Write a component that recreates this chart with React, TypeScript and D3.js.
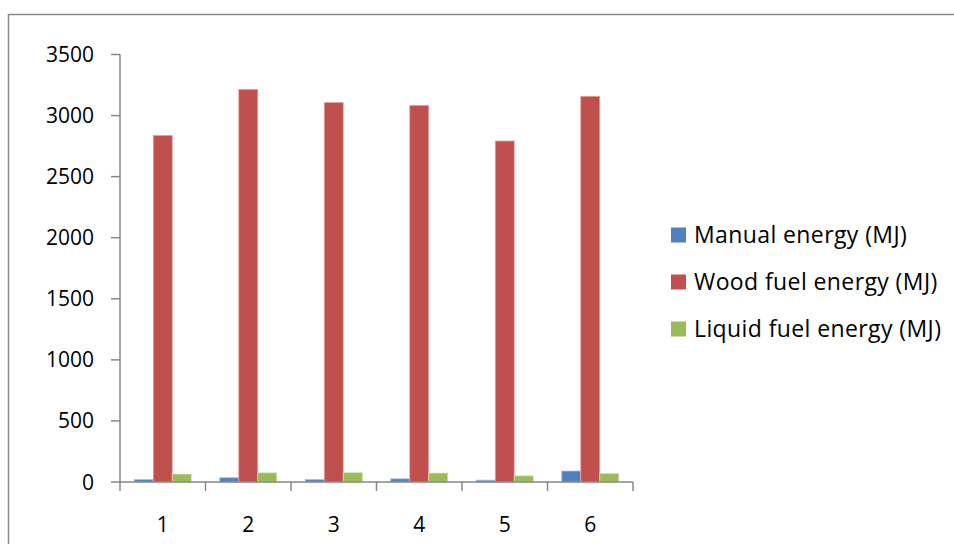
import React from "react";
import * as d3 from "d3";

const categories = ["1", "2", "3", "4", "5", "6"];
const seriesNames = ["Manual energy (MJ)", "Wood fuel energy (MJ)", "Liquid fuel energy (MJ)"];
const manual = [20, 35, 20, 26, 15, 90];
const wood = [2838, 3215, 3108, 3084, 2792, 3158];
const liquid = [65, 75, 76, 73, 50, 70];
const yTicks = [0, 500, 1000, 1500, 2000, 2500, 3000, 3500];
const colors = ["#4F81BD", "#C0504D", "#9BBB59"];
const edgeColors = ["#a9c1e0", "#e2a9a7", "#cfe0ae"];

export default function App() {
  const W = 954, H = 544;
  const left = 120, right = 633, top = 54.5, bottom = 482;
  const series = [manual, wood, liquid];
  const x = d3.scaleBand<string>().domain(categories).range([left, right]).paddingInner(0).paddingOuter(0);
  const y = d3.scaleLinear().domain([0, 3500]).range([bottom, top]);
  const bw = x.bandwidth();
  const barW = bw / 4.5;
  const inner = d3.scaleBand<number>().domain([0, 1, 2]).range([0.75 * barW, 0.75 * barW + 3 * barW]);
  const axisColor = "#878787";
  const font = "'Open Sans', sans-serif";
  const legendY = [235, 282, 329];

  return (
    <svg width={W} height={H} style={{ position: "absolute", left: 0, top: 0, background: "#fff" }}>
      <rect x={0} y={0} width={W} height={H} fill="#fff" />
      <rect x={8.5} y={14.5} width={W + 20} height={H + 20} fill="none" stroke="#8c8c8c" strokeWidth={1.5} />
      {series.map((vals, si) =>
        vals.map((v, ci) => (
          <rect
            key={`${si}-${ci}`}
            x={(x(categories[ci]) as number) + (inner(si) as number)}
            y={y(v)}
            width={inner.bandwidth()}
            height={bottom - y(v)}
            fill={colors[si]}
            stroke={edgeColors[si]}
            strokeWidth={0.8}
          />
        ))
      )}
      <line x1={left} x2={left} y1={top} y2={bottom + 9} stroke={axisColor} strokeWidth={1.5} />
      {yTicks.map((t) => (
        <g key={t}>
          <line x1={left - 9} x2={left} y1={y(t)} y2={y(t)} stroke={axisColor} strokeWidth={1.5} />
          <text x={94} y={y(t)} dy="0.36em" textAnchor="end" fontFamily={font} fontSize={21} fill="#000">
            {t}
          </text>
        </g>
      ))}
      <line x1={left} x2={right} y1={bottom} y2={bottom} stroke={axisColor} strokeWidth={1.5} />
      {categories.map((c) => (
        <g key={c}>
          <line x1={(x(c) as number) + bw} x2={(x(c) as number) + bw} y1={bottom} y2={bottom + 9} stroke={axisColor} strokeWidth={1.5} />
          <text x={(x(c) as number) + bw / 2} y={524} dy="0.36em" textAnchor="middle" fontFamily={font} fontSize={21} fill="#000">
            {c}
          </text>
        </g>
      ))}
      {seriesNames.map((n, i) => (
        <g key={n}>
          <rect x={671} y={legendY[i] - 7.5} width={15} height={15} fill={colors[i]} />
          <text x={694} y={legendY[i]} dy="0.36em" fontFamily={font} fontSize={23} letterSpacing={0.4} fill="#000">
            {n}
          </text>
        </g>
      ))}
    </svg>
  );
}
